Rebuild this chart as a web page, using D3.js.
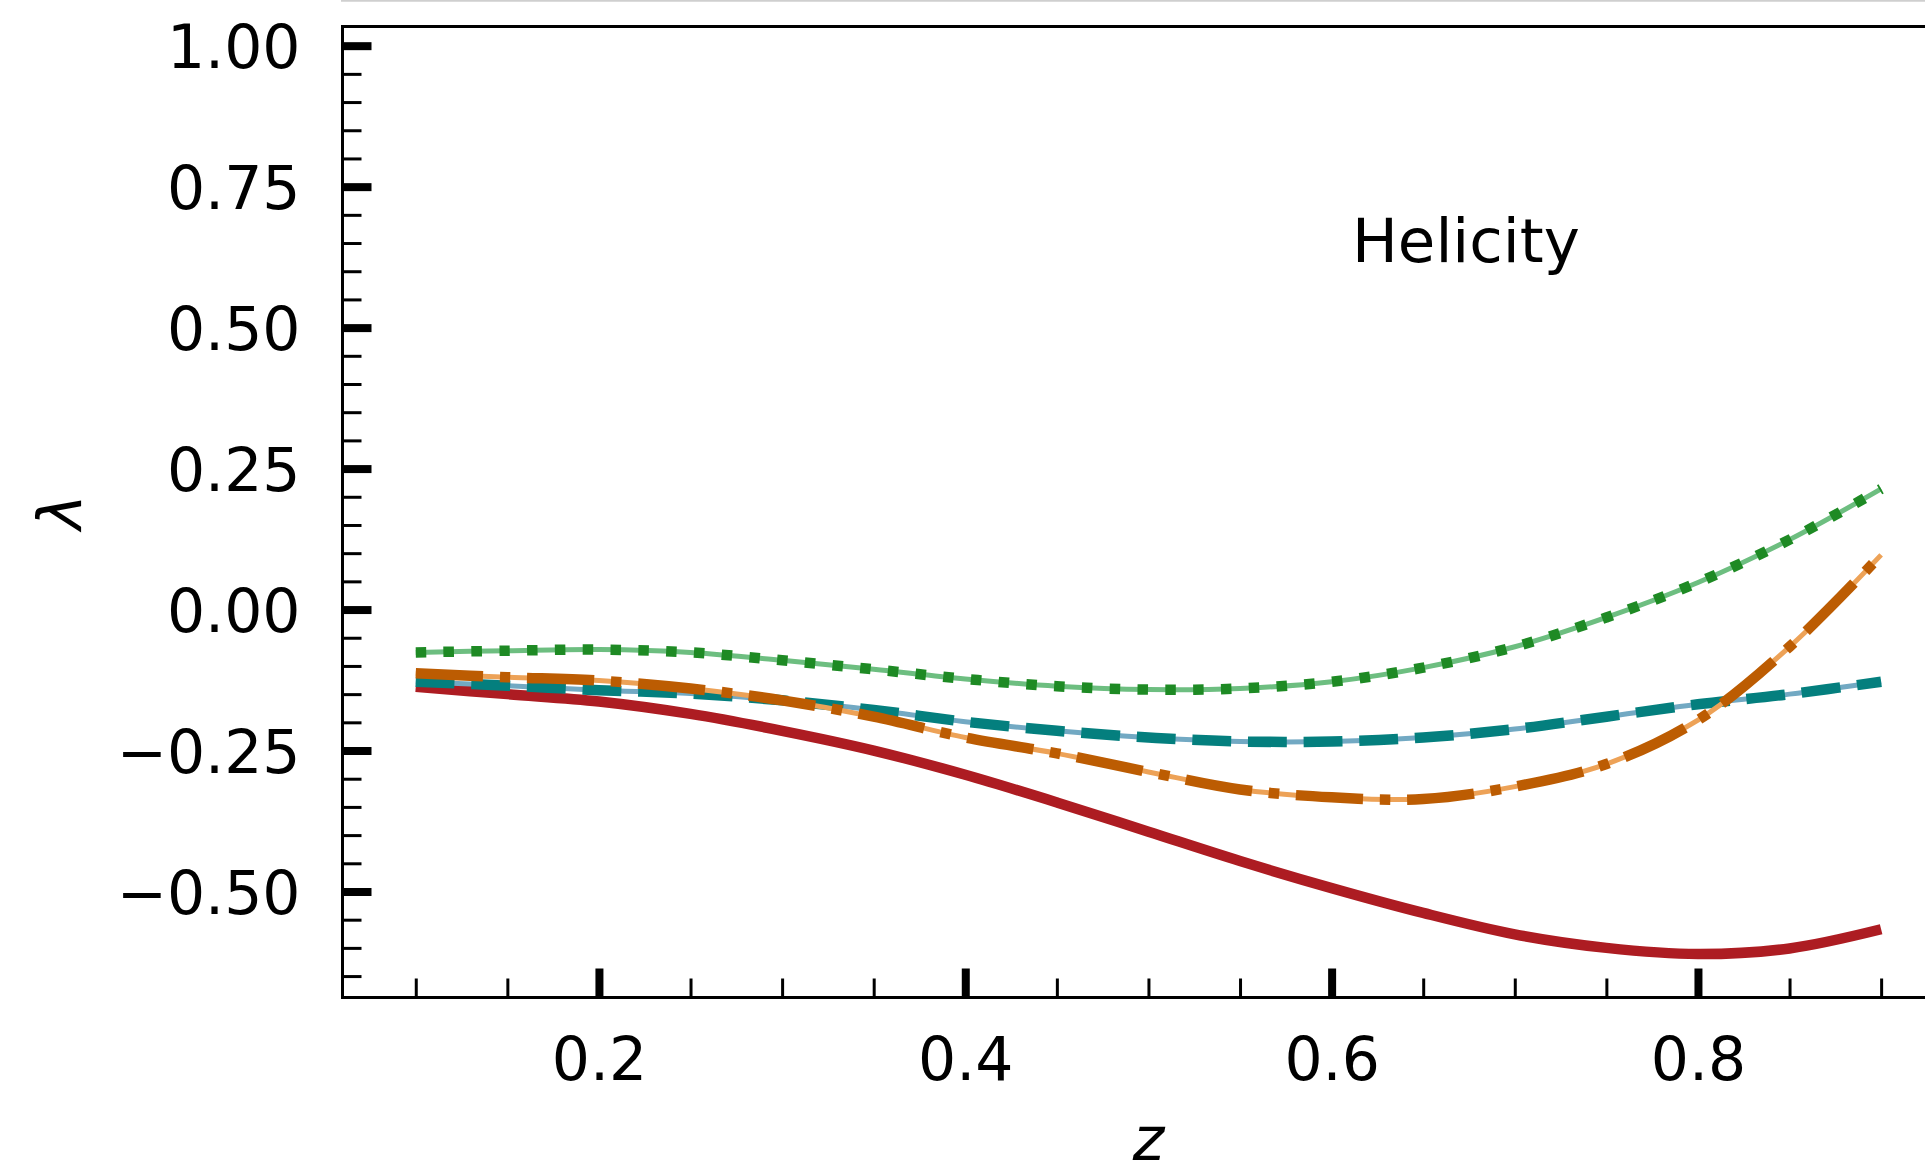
<!DOCTYPE html>
<html>
<head>
<meta charset="utf-8">
<script src="https://cdn.jsdelivr.net/npm/d3@7"></script>
<style>
  html, body { margin: 0; padding: 0; background: #ffffff; }
  svg { display: block; }
  text { font-family: "DejaVu Sans", sans-serif; fill: #000; }
</style>
</head>
<body>
<svg id="chart" width="1925" height="1168"></svg>
<script>
// Momentum fraction z
const zValues = [0.10, 0.15, 0.20, 0.25, 0.30, 0.35, 0.40, 0.45, 0.50,
                 0.55, 0.60, 0.65, 0.70, 0.75, 0.80, 0.85, 0.90];

// Helicity lambda for each curve
const redSolid = [-0.137, -0.150, -0.163, -0.185, -0.215, -0.250, -0.293, -0.342, -0.394,
                  -0.446, -0.494, -0.538, -0.576, -0.600, -0.611, -0.601, -0.567];
const tealDashed = [-0.128, -0.135, -0.143, -0.149, -0.161, -0.178, -0.199, -0.215, -0.227,
                    -0.234, -0.234, -0.227, -0.212, -0.190, -0.168, -0.150, -0.128];
const orangeDashDot = [-0.113, -0.120, -0.126, -0.140, -0.161, -0.190, -0.227, -0.255, -0.288,
                       -0.319, -0.333, -0.336, -0.314, -0.274, -0.196, -0.066, 0.097];
const greenDotted = [-0.076, -0.073, -0.071, -0.076, -0.090, -0.106, -0.123, -0.136, -0.142,
                     -0.140, -0.128, -0.103, -0.066, -0.014, 0.048, 0.124, 0.214];

// Axis ticks
const xMajorTicks = [0.2, 0.4, 0.6, 0.8];
const xMinorTicks = [0.10, 0.15, 0.25, 0.30, 0.35, 0.45, 0.50, 0.55, 0.65, 0.70, 0.75, 0.85, 0.90];
const yMajorTicks = [-0.50, -0.25, 0.00, 0.25, 0.50, 0.75, 1.00];
const yMinorTicks = [-0.65, -0.60, -0.55, -0.45, -0.40, -0.35, -0.30, -0.20, -0.15, -0.10, -0.05,
                     0.05, 0.10, 0.15, 0.20, 0.30, 0.35, 0.40, 0.45, 0.55, 0.60, 0.65, 0.70,
                     0.80, 0.85, 0.90, 0.95];

const xLabel = "z";
const yLabel = "λ";
const annotation = "Helicity";

// Series styling
const series = [
  { values: redSolid,      color: "#ad1c22", under: null,      dash: null },
  { values: tealDashed,    color: "#047f7e", under: "#72a9c3", dash: "dashed" },
  { values: orangeDashDot, color: "#bc5c02", under: "#eda257", dash: "dashdot" },
  { values: greenDotted,   color: "#1e8a24", under: "#6dbe80", dash: "dotted" }
];

const svg = d3.select("#chart");
const W = 1925, H = 1168;
svg.append("rect").attr("width", W).attr("height", H).attr("fill", "#fff");

const axLeft = 342.5, axTop = 26.5, axBottom = 997.5;
const xDomain = [0.06, 0.94];
const x = d3.scaleLinear().domain(xDomain).range([axLeft, axLeft + 0.88 * 1831.7]);
const y = d3.scaleLinear().domain([-0.688, 1.034]).range([axBottom, axTop]);
const axRight = x(xDomain[1]);

// Faint frame edge above the axes
svg.append("line")
  .attr("x1", axLeft - 1.5).attr("x2", W)
  .attr("y1", 0.8).attr("y2", 0.8)
  .attr("stroke", "#cfcfcf").attr("stroke-width", 2);

const lw = 10.5;
const dashPatterns = {
  dashed: [3.7 * lw, 1.6 * lw],
  dashdot: [6.4 * lw, 1.6 * lw, 1.0 * lw, 1.6 * lw],
  dotted: [1.0 * lw, 1.65 * lw]
};

const plot = svg.append("g");
const line = d3.line()
  .x(d => x(d[0]))
  .y(d => y(d[1]))
  .curve(d3.curveCatmullRom.alpha(0.5));

series.forEach(s => {
  const pts = zValues.map((z, i) => [z, s.values[i]]);
  if (s.under) {
    plot.append("path")
      .attr("d", line(pts))
      .attr("fill", "none")
      .attr("stroke", s.under)
      .attr("stroke-width", 5)
      .attr("stroke-linecap", "butt");
  }
  const p = plot.append("path")
    .attr("d", line(pts))
    .attr("fill", "none")
    .attr("stroke", s.color)
    .attr("stroke-width", lw)
    .attr("stroke-linecap", "butt")
    .attr("stroke-linejoin", "round");
  if (s.dash) p.attr("stroke-dasharray", dashPatterns[s.dash].join(","));
});

// Axes: inward ticks
const fontSize = 60;

const yMajor = d3.axisLeft(y).tickValues(yMajorTicks).tickSize(-29).tickPadding(42)
  .tickFormat(d3.format(".2f"));
const gy = svg.append("g").attr("transform", `translate(${axLeft},0)`).call(yMajor);
gy.select(".domain").remove();
gy.selectAll(".tick line").attr("stroke", "#000").attr("stroke-width", 8);
gy.selectAll(".tick text").attr("font-size", fontSize).attr("font-family", "DejaVu Sans")
  .attr("dy", "0.36em").attr("fill", "#000");

const yMinor = d3.axisLeft(y).tickValues(yMinorTicks).tickSize(-19).tickFormat("");
const gym = svg.append("g").attr("transform", `translate(${axLeft},0)`).call(yMinor);
gym.select(".domain").remove();
gym.selectAll(".tick line").attr("stroke", "#000").attr("stroke-width", 3);

const xMajor = d3.axisBottom(x).tickValues(xMajorTicks).tickSize(-29).tickPadding(40)
  .tickFormat(d3.format(".1f"));
const gx = svg.append("g").attr("transform", `translate(0,${axBottom})`).call(xMajor);
gx.select(".domain").remove();
gx.selectAll(".tick line").attr("stroke", "#000").attr("stroke-width", 8);
gx.selectAll(".tick text").attr("font-size", fontSize).attr("font-family", "DejaVu Sans")
  .attr("dy", "0.71em").attr("fill", "#000");

const xMinor = d3.axisBottom(x).tickValues(xMinorTicks).tickSize(-19).tickFormat("");
const gxm = svg.append("g").attr("transform", `translate(0,${axBottom})`).call(xMinor);
gxm.select(".domain").remove();
gxm.selectAll(".tick line").attr("stroke", "#000").attr("stroke-width", 3);

// Spines (right spine lies beyond the canvas)
const spines = svg.append("g").attr("stroke", "#000").attr("stroke-width", 3).attr("fill", "none");
spines.append("line").attr("x1", axLeft).attr("x2", axLeft).attr("y1", axTop - 1.5).attr("y2", axBottom + 1.5);
spines.append("line").attr("x1", axLeft - 1.5).attr("x2", axRight).attr("y1", axTop).attr("y2", axTop);
spines.append("line").attr("x1", axLeft - 1.5).attr("x2", axRight).attr("y1", axBottom).attr("y2", axBottom);

// Axis labels
svg.append("text")
  .attr("x", (axLeft + axRight) / 2).attr("y", 1160)
  .attr("text-anchor", "middle")
  .attr("font-size", fontSize)
  .attr("font-style", "italic")
  .text(xLabel);

svg.append("text")
  .attr("transform", `translate(81,${(axTop + axBottom) / 2}) rotate(-90)`)
  .attr("text-anchor", "middle")
  .attr("font-size", fontSize)
  .attr("font-style", "italic")
  .text(yLabel);

// Panel annotation
svg.append("text")
  .attr("x", 1352).attr("y", 262)
  .attr("font-size", 61)
  .text(annotation);
</script>
</body>
</html>
